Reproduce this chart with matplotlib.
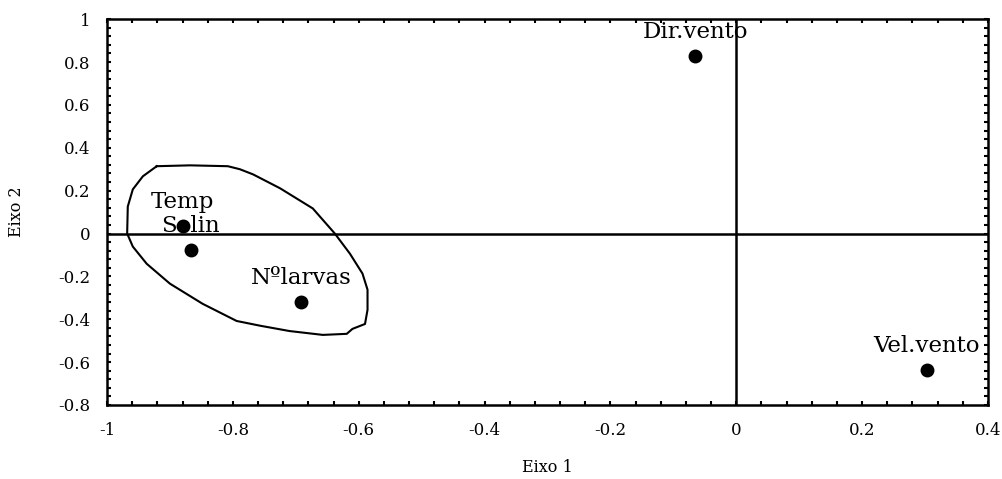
import numpy as np
import matplotlib.pyplot as plt
from matplotlib.ticker import MultipleLocator

plt.rcParams['font.family'] = ['DejaVu Serif']

# variáveis e coordenadas nos eixos 1 e 2
nomes = ['Temp', 'Solin', 'N\u00balarvas', 'Dir.vento', 'Vel.vento']
eixo1 = [-0.88, -0.867, -0.692, -0.065, 0.303]
eixo2 = [0.035, -0.075, -0.32, 0.83, -0.637]

# contorno do agrupamento
cont_x = [-0.921, -0.868, -0.808, -0.789, -0.768, -0.725, -0.673, -0.638, -0.614, -0.594,
          -0.586, -0.586, -0.590, -0.610, -0.619, -0.657, -0.710, -0.757, -0.794, -0.848,
          -0.900, -0.937, -0.959, -0.968, -0.967, -0.959, -0.943, -0.921]
cont_y = [0.314, 0.318, 0.314, 0.300, 0.276, 0.211, 0.117, 0.000, -0.094, -0.187,
          -0.262, -0.356, -0.422, -0.445, -0.468, -0.473, -0.455, -0.430, -0.408, -0.328,
          -0.234, -0.141, -0.061, 0.000, 0.126, 0.206, 0.267, 0.314]

xticks = [-1, -0.8, -0.6, -0.4, -0.2, 0, 0.2, 0.4]
xlabels = ['-1', '-0.8', '-0.6', '-0.4', '-0.2', '0', '0.2', '0.4']
yticks = [-0.8, -0.6, -0.4, -0.2, 0, 0.2, 0.4, 0.6, 0.8, 1]
ylabels = ['-0.8', '-0.6', '-0.4', '-0.2', '0', '0.2', '0.4', '0.6', '0.8', '1']

fig = plt.figure(figsize=(10.03, 4.79), dpi=100)
ax = fig.add_axes([0.1067, 0.1545, 0.8783, 0.8055])

ax.axhline(0, color='black', lw=1.8)
ax.axvline(0, color='black', lw=1.8)
ax.plot(cont_x, cont_y, color='black', lw=1.5)
ax.plot(eixo1, eixo2, 'o', color='black', markersize=9)
for n, xv, yv in zip(nomes, eixo1, eixo2):
    ax.annotate(n, (xv, yv), xytext=(0, 17), textcoords='offset points',
                ha='center', va='center', fontsize=16.5)

ax.set_xlim(-1, 0.4)
ax.set_ylim(-0.8, 1)
ax.set_xticks(xticks)
ax.set_xticklabels(xlabels)
ax.set_yticks(yticks)
ax.set_yticklabels(ylabels)
ax.xaxis.set_minor_locator(MultipleLocator(0.04))
ax.yaxis.set_minor_locator(MultipleLocator(0.04))
ax.tick_params(which='both', direction='in', top=True, right=True, width=1.5)
ax.tick_params(which='major', length=3, labelsize=12, pad=12)
ax.tick_params(which='minor', length=3)
for s in ax.spines.values():
    s.set_linewidth(1.8)

ax.set_xlabel('Eixo 1', fontsize=11.5, labelpad=15)
ax.set_ylabel('Eixo 2', fontsize=11.5, labelpad=24)

fig.savefig('out.png', dpi=100)
